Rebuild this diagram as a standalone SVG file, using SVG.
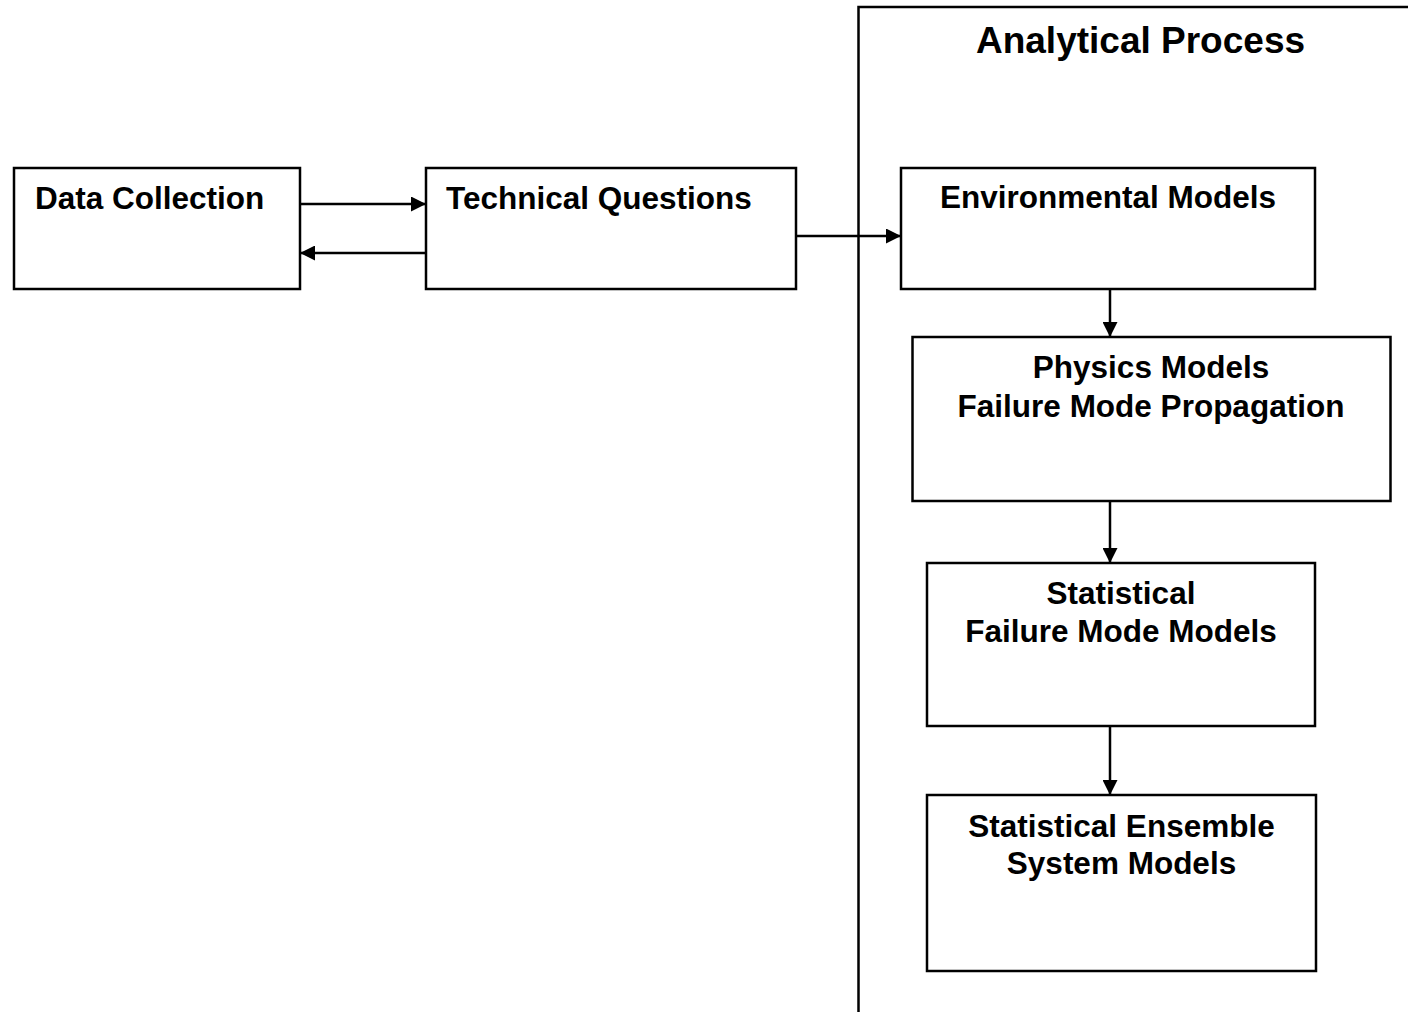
<svg xmlns="http://www.w3.org/2000/svg" width="1408" height="1012" viewBox="0 0 1408 1012">
<style>
.box{fill:#fff;stroke:#000;stroke-width:2.5}
.t{font-family:"Liberation Sans",Arial,sans-serif;font-weight:bold;font-size:31.5px;fill:#000}
.c{text-anchor:middle}
.ln{stroke:#000;stroke-width:2.5;fill:none}
</style>
<defs>
<marker id="ah" viewBox="0 0 15 15" refX="15" refY="7.5" markerWidth="15" markerHeight="15" markerUnits="userSpaceOnUse" orient="auto">
<path d="M0,0 L15,7.5 L0,15 Z" fill="#000"/>
</marker>
</defs>
<rect width="1408" height="1012" fill="#fff"/>
<g id="analytical-process">
<rect class="box" x="858.5" y="7" width="600" height="1100" fill="none"/>
<text class="t c" x="1140.5" y="53" style="font-size:37px">Analytical Process</text>
</g>
<g id="data-collection">
<rect class="box" x="14" y="168" width="286" height="121"/>
<text class="t" x="35" y="209">Data Collection</text>
</g>
<g id="technical-questions">
<rect class="box" x="426" y="168" width="370" height="121"/>
<text class="t" x="446" y="209">Technical Questions</text>
</g>
<g id="environmental-models">
<rect class="box" x="901" y="168" width="414" height="121"/>
<text class="t c" x="1108" y="208">Environmental Models</text>
</g>
<g id="physics-models">
<rect class="box" x="912.5" y="337" width="478" height="164"/>
<text class="t c" x="1151" y="377.5">Physics Models</text>
<text class="t c" x="1151" y="417">Failure Mode Propagation</text>
</g>
<g id="statistical-failure-mode-models">
<rect class="box" x="927" y="563" width="388" height="163"/>
<text class="t c" x="1121" y="604">Statistical</text>
<text class="t c" x="1121" y="642">Failure Mode Models</text>
</g>
<g id="statistical-ensemble-system-models">
<rect class="box" x="927" y="795" width="389" height="176"/>
<text class="t c" x="1121.5" y="837">Statistical Ensemble</text>
<text class="t c" x="1121.5" y="874">System Models</text>
</g>
<g id="connectors">
<line class="ln" x1="300" y1="204" x2="426" y2="204" marker-end="url(#ah)"/>
<line class="ln" x1="426" y1="253" x2="300" y2="253" marker-end="url(#ah)"/>
<line class="ln" x1="796" y1="236" x2="901" y2="236" marker-end="url(#ah)"/>
<line class="ln" x1="1110" y1="289" x2="1110" y2="337" marker-end="url(#ah)"/>
<line class="ln" x1="1110" y1="501" x2="1110" y2="563" marker-end="url(#ah)"/>
<line class="ln" x1="1110" y1="726" x2="1110" y2="795" marker-end="url(#ah)"/>
</g>
</svg>
